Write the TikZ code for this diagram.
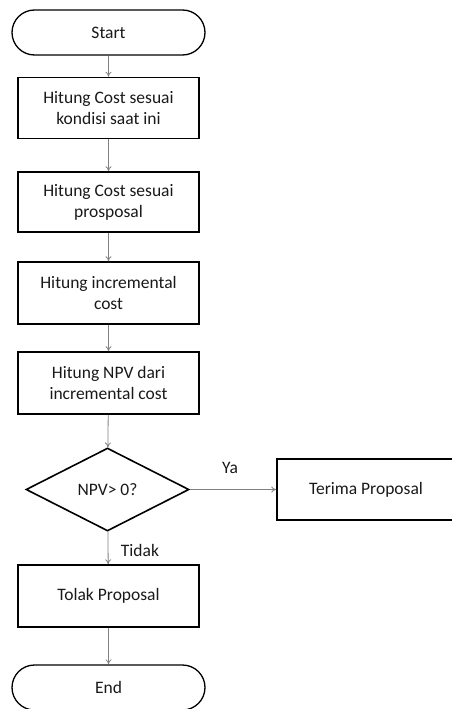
\documentclass[tikz,border=0pt]{standalone}
\usepackage{fontspec}
\setmainfont{Carlito}
\usetikzlibrary{shapes.geometric,arrows.meta}
\begin{document}
\begin{tikzpicture}[x=1pt,y=-1pt,
  every node/.style={font=\fontsize{17.5}{21}\selectfont, align=center, text=black!90},
  proc/.style={draw=black, line width=1.6pt, minimum width=181pt, inner sep=0pt},
  term/.style={draw=black, line width=1.3pt, rounded corners=22.5pt, minimum width=193pt, minimum height=45pt, inner sep=0pt},
  dec/.style={draw=black, line width=1.6pt, diamond, minimum width=163pt, minimum height=83pt, inner sep=0pt, aspect=1.96},
  flow/.style={draw=black!50, line width=0.8pt, -{To[length=5pt,width=6pt]}}]
\useasboundingbox (0,0) rectangle (451,709);
\node[term] (start) at (108.5,32.5) {Start};
\node[proc, minimum height=61pt] (b1) at (108.5,108) {Hitung Cost sesuai\\kondisi saat ini};
\node[proc, minimum height=60pt] (b2) at (108.5,202) {Hitung Cost sesuai\\prosposal};
\node[proc, minimum height=62pt] (b3) at (108.5,293) {Hitung incremental\\cost};
\node[proc, minimum height=62pt] (b4) at (108.5,383) {Hitung NPV dari\\incremental cost};
\node[dec] (d) at (107.5,489.5) {NPV> 0?};
\node[proc, minimum height=62pt] (tolak) at (108.5,596) {Tolak Proposal};
\node[term] (end) at (108.5,687.5) {End};
\node[proc, minimum width=178pt, minimum height=61pt] (terima) at (366,489.5) {Terima Proposal};
\node (ya) at (230,468) {Ya};
\node (tidak) at (140,550) {Tidak};
\draw[flow] (start) -- (b1);
\draw[flow] (b1) -- (b2);
\draw[flow] (b2) -- (b3);
\draw[flow] (b3) -- (b4);
\draw[flow] (b4) -- (d);
\draw[flow] (d) -- (tolak);
\draw[flow] (tolak) -- (end);
\draw[flow] (d) -- (terima);
\end{tikzpicture}
\end{document}
